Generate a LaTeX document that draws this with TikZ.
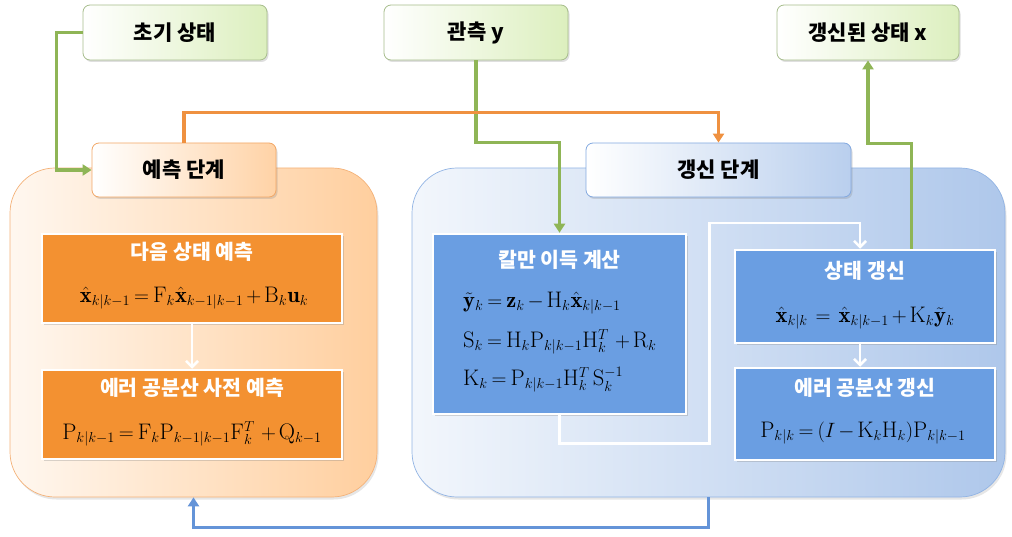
\documentclass[tikz,border=0pt]{standalone}
\usepackage{fontspec}
\usepackage{amsmath}
\newfontfamily\kr{Noto Sans CJK KR}
\usetikzlibrary{arrows.meta,shadows,positioning,calc}
\definecolor{gline}{HTML}{8FB556}
\definecolor{oline}{HTML}{EF9140}
\definecolor{bline}{HTML}{6494D8}
\definecolor{ofill}{HTML}{F39131}
\definecolor{bfill}{HTML}{6A9EE2}
\definecolor{gdark}{HTML}{DCEFBE}
\definecolor{gborder}{HTML}{A7BD8C}
\newcommand\tightmath{\thickmuskip=3.5mu plus 1mu\medmuskip=2.5mu plus 1mu}
\begin{document}
\begin{tikzpicture}[x=1pt,y=-1pt,
  topbox/.style={rounded corners=7pt, draw=gborder, line width=0.8pt, left color=white, right color=gdark,
     minimum width=#1, minimum height=55pt, inner sep=0pt,
     drop shadow={opacity=0.25, shadow xshift=1.5pt, shadow yshift=-2pt},
     font=\kr\bfseries\fontsize{21}{24}\selectfont},
  ohdr/.style={rounded corners=7pt, draw=oline!80, line width=0.8pt, left color=white, right color=orange!35!white,
     minimum width=184pt, minimum height=54pt, inner sep=0pt,
     drop shadow={opacity=0.25, shadow xshift=1.5pt, shadow yshift=-2pt},
     font=\kr\bfseries\fontsize{21}{24}\selectfont},
  bhdr/.style={rounded corners=7pt, draw=bline!80, line width=0.8pt, left color=white, right color=bline!45!white,
     minimum width=265pt, minimum height=54pt, inner sep=0pt,
     drop shadow={opacity=0.25, shadow xshift=1.5pt, shadow yshift=-2pt},
     font=\kr\bfseries\fontsize{21}{24}\selectfont},
  oreg/.style={rounded corners=45pt, draw=oline!70, line width=0.7pt, left color=orange!6!white, right color=orange!38!white,
     minimum width=367pt, minimum height=329pt, inner sep=0pt,
     drop shadow={opacity=0.2, shadow xshift=1.5pt, shadow yshift=-2.5pt}},
  breg/.style={rounded corners=45pt, draw=bline!70, line width=0.7pt, left color=bline!8!white, right color=bline!52!white,
     minimum width=593pt, minimum height=329pt, inner sep=0pt,
     drop shadow={opacity=0.2, shadow xshift=1.5pt, shadow yshift=-2.5pt}},
  ibox/.style={draw=white, line width=2.5pt, fill=#1, inner sep=0pt,
     drop shadow={opacity=0.3, shadow xshift=2pt, shadow yshift=-2pt}},
  ttl/.style={text=white, font=\kr\bfseries\fontsize{20.5}{24}\selectfont, inner sep=0pt},
  eq/.style={font=\fontsize{22.5}{26}\selectfont\tightmath, inner sep=0pt},
  conn/.style={line width=3.5pt, #1, -{Triangle[length=9pt,width=11pt]}},
  wconn/.style={line width=2.5pt, white, -{Straight Barb[length=6pt,width=12pt]}}
]
\useasboundingbox (0,0) rectangle (1012,537);
% regions
\node[oreg] (orreg) at (193.5,332.5) {};
\node[breg] (blreg) at (708.5,332.5) {};
% top boxes
\node[topbox=184pt] (init) at (175,32.5) {초기 상태};
\node[topbox=184pt] (obs) at (476,32.5) {관측 y};
\node[topbox=182pt] (updx) at (868,32.5) {갱신된 상태 x};
% headers
\node[ohdr] (predhdr) at (184,170) {예측 단계};
\node[bhdr] (updhdr) at (718.5,170) {갱신 단계};
% inner boxes
\node[ibox=ofill, minimum width=300pt, minimum height=89pt] (b1) at (192,278.5) {};
\node[ibox=ofill, minimum width=300pt, minimum height=89pt] (b2) at (192,414.5) {};
\node[ibox=bfill, minimum width=253pt, minimum height=180pt] (kal) at (559.5,324) {};
\node[ibox=bfill, minimum width=260pt, minimum height=93pt] (stu) at (865,296.5) {};
\node[ibox=bfill, minimum width=260pt, minimum height=92pt] (cov) at (865,414) {};
% texts
\node[ttl] (t1) at (192,252) {다음 상태 예측};
\node[eq] (e1) at (194,298) {$\hat{\mathbf{x}}_{k|k-1}=\mathrm{F}_k\hat{\mathbf{x}}_{k-1|k-1}+\mathrm{B}_k\mathbf{u}_k$};
\node[ttl] (t2) at (192,388) {에러 공분산 사전 예측};
\node[eq] (e2) at (192,434) {$\mathrm{P}_{k|k-1}=\mathrm{F}_k\mathrm{P}_{k-1|k-1}\mathrm{F}_k^T\,+\mathrm{Q}_{k-1}$};
\node[ttl] (t3) at (559.5,260) {칼만 이득 계산};
\node[eq, anchor=west] (e3a) at (463,303) {$\tilde{\mathbf{y}}_k=\mathbf{z}_k-\mathrm{H}_k\hat{\mathbf{x}}_{k|k-1}$};
\node[eq, anchor=west] (e3b) at (463,342) {$\mathrm{S}_k=\mathrm{H}_k\mathrm{P}_{k|k-1}\mathrm{H}_k^T\,+\mathrm{R}_k$};
\node[eq, anchor=west] (e3c) at (463,380) {$\mathrm{K}_k=\mathrm{P}_{k|k-1}\mathrm{H}_k^T\,\mathrm{S}_k^{-1}$};
\node[ttl] (t4) at (865,271) {상태 갱신};
\node[eq] (e4) at (865,318) {$\hat{\mathbf{x}}_{k|k}\;=\;\hat{\mathbf{x}}_{k|k-1}+\mathrm{K}_k\tilde{\mathbf{y}}_k$};
\node[ttl] (t5) at (865,388) {에러 공분산 갱신};
\node[eq] (e5) at (863,433) {$\mathrm{P}_{k|k}=(I-\mathrm{K}_k\mathrm{H}_k)\mathrm{P}_{k|k-1}$};
% connectors
\draw[conn=gline] (init.west) -- ++(-26,0) |- (predhdr.west);
\draw[conn=gline] (obs.south) -- ++(0,82) -| (kal.north);
\draw[conn=oline] (predhdr.north) -- ++(0,-30) -| (updhdr.north);
\draw[conn=gline] ([xshift=-85pt]stu.north east) -- ++(0,-105) -| (updx.south);
\draw[conn=bline] (blreg.south) -- ++(0,30) -| (orreg.south);
\draw[wconn] (kal.south) -- ++(0,28) -- ++(150,0) -- ++(0,-220) -| ([xshift=-5pt]stu.north);
\draw[wconn] ([xshift=-5pt]stu.south) -- ([xshift=-5pt]cov.north);
\draw[wconn] (b1.south) -- (b2.north);
\end{tikzpicture}
\end{document}
